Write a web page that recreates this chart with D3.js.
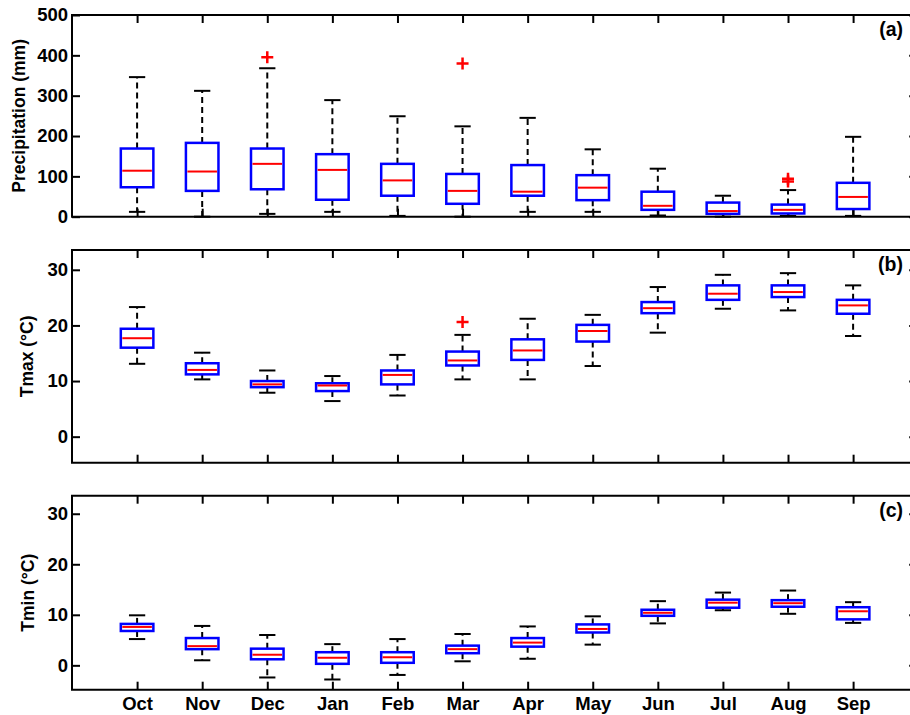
<!DOCTYPE html>
<html><head><meta charset="utf-8">
<script src="https://cdn.jsdelivr.net/npm/d3@7"></script>
<style>
html,body{margin:0;padding:0;background:#fff;overflow:hidden;}
svg{display:block;overflow:hidden;}
text{font-family:"Liberation Sans",Arial,sans-serif;font-weight:bold;fill:#000;}
</style></head>
<body><svg id="chart" width="910" height="715" viewBox="0 0 910 715"></svg>
<script>
const months = ["Oct","Nov","Dec","Jan","Feb","Mar","Apr","May","Jun","Jul","Aug","Sep"];

// Panel (a) Precipitation (mm)
const precipLow  = [12, 0, 7, 12, 2, 0, 12, 12, 3, 0, 2, 2];
const precipQ1   = [73, 64, 68, 42, 52, 32, 52, 41, 17, 7, 8, 19];
const precipMed  = [114, 112, 131, 116, 90, 64, 62, 72, 27, 14, 17, 49];
const precipQ3   = [169, 183, 169, 155, 131, 106, 128, 103, 62, 35, 30, 84];
const precipHigh = [346, 312, 368, 289, 249, 224, 245, 167, 119, 52, 66, 198];
const precipOut  = [[], [], [395], [], [], [380], [], [], [], [], [94, 87], []];
const precipTicks = [0, 100, 200, 300, 400, 500];

// Panel (b) Tmax
const tmaxLow  = [13.1, 10.3, 7.9, 6.4, 7.4, 10.3, 10.3, 12.7, 18.7, 23.0, 22.7, 18.1];
const tmaxQ1   = [16.0, 11.2, 8.9, 8.2, 9.4, 12.8, 13.8, 17.1, 22.2, 24.6, 25.1, 22.1];
const tmaxMed  = [17.7, 12.0, 9.4, 9.2, 11.1, 13.7, 15.5, 19.0, 23.1, 25.7, 26.0, 23.6];
const tmaxQ3   = [19.4, 13.2, 10.0, 9.6, 11.9, 15.3, 17.5, 20.1, 24.2, 27.2, 27.2, 24.6];
const tmaxHigh = [23.3, 15.1, 11.9, 10.9, 14.7, 18.3, 21.2, 21.9, 26.9, 29.1, 29.4, 27.2];
const tmaxOut  = [[], [], [], [], [], [20.6], [], [], [], [], [], []];

// Panel (c) Tmin
const tminLow  = [5.2, 1.0, -2.4, -2.8, -1.9, 0.8, 1.3, 4.1, 8.3, 10.9, 10.2, 8.4];
const tminQ1   = [6.8, 3.2, 1.2, 0.3, 0.5, 2.4, 3.7, 6.5, 9.8, 11.4, 11.6, 9.1];
const tminMed  = [7.6, 3.8, 2.1, 1.5, 1.6, 3.2, 4.5, 7.2, 10.4, 12.4, 12.3, 10.7];
const tminQ3   = [8.2, 5.4, 3.3, 2.6, 2.6, 3.9, 5.4, 8.1, 11.0, 13.0, 12.9, 11.5];
const tminHigh = [9.9, 7.8, 6.0, 4.2, 5.2, 6.2, 7.7, 9.7, 12.7, 14.4, 14.8, 12.5];
const tminOut  = [[], [], [], [], [], [], [], [], [], [], [], []];
const tempTicks = [0, 10, 20, 30];

const panels = [
  {label:"(a)", ylab:"Precipitation (mm)", top:15, bottom:216.7, dom:[0,500], ticks:precipTicks,
   low:precipLow, q1:precipQ1, med:precipMed, q3:precipQ3, high:precipHigh, out:precipOut, xlabels:false, ylabX:18.5},
  {label:"(b)", ylab:"Tmax (\u00B0C)", top:250, bottom:462.7, dom:[-4.68,33.56], ticks:tempTicks,
   low:tmaxLow, q1:tmaxQ1, med:tmaxMed, q3:tmaxQ3, high:tmaxHigh, out:tmaxOut, xlabels:false, ylabX:27},
  {label:"(c)", ylab:"Tmin (\u00B0C)", top:495.7, bottom:689.7, dom:[-4.82,33.57], ticks:tempTicks,
   low:tminLow, q1:tminQ1, med:tminMed, q3:tminQ3, high:tminHigh, out:tminOut, xlabels:true, ylabX:27.5}
];

const svg = d3.select("#chart");
const left = 72, right = 918.2;
const x = d3.scaleLinear().domain([0, 13]).range([left, right]);
const idx = d3.range(1, 13);

panels.forEach(p => {
  const y = d3.scaleLinear().domain(p.dom).range([p.bottom, p.top]);
  const g = svg.append("g");

  const styleAxis = sel => {
    sel.select(".domain").remove();
    sel.selectAll(".tick line").attr("stroke","#000").attr("stroke-width",2);
    sel.selectAll(".tick text").style("font-size","18.5px").attr("fill","#000");
  };
  g.append("g").attr("transform",`translate(${left},0)`)
    .call(d3.axisLeft(y).tickValues(p.ticks).tickSize(-8).tickPadding(4).tickFormat(d3.format("d")))
    .call(styleAxis);
  g.append("g").attr("transform",`translate(${right},0)`)
    .call(d3.axisRight(y).tickValues(p.ticks).tickSize(-9).tickFormat(""))
    .call(styleAxis);
  g.append("g").attr("transform",`translate(0,${p.top})`)
    .call(d3.axisTop(x).tickValues(idx).tickSize(-8).tickFormat(""))
    .call(styleAxis);
  g.append("g").attr("transform",`translate(0,${p.bottom})`)
    .call(d3.axisBottom(x).tickValues(idx).tickSize(-8).tickPadding(7)
      .tickFormat(p.xlabels ? (d => months[d-1]) : ""))
    .call(styleAxis);

  // frame: left, top, bottom (right edge lies outside the picture)
  g.append("path")
    .attr("d",`M${right},${p.top}H${left}V${p.bottom}H${right}`)
    .attr("fill","none").attr("stroke","#000").attr("stroke-width",2);

  const hw = 0.25, cw = 0.125;
  idx.forEach((m, i) => {
    g.append("line").attr("x1",x(m)).attr("x2",x(m)).attr("y1",y(p.q3[i])).attr("y2",y(p.high[i]))
      .attr("stroke","#000").attr("stroke-width",2).attr("stroke-dasharray","6,4");
    g.append("line").attr("x1",x(m)).attr("x2",x(m)).attr("y1",y(p.q1[i])).attr("y2",y(p.low[i]))
      .attr("stroke","#000").attr("stroke-width",2).attr("stroke-dasharray","6,4");
    [p.high[i], p.low[i]].forEach(v => {
      g.append("line").attr("x1",x(m-cw)).attr("x2",x(m+cw)).attr("y1",y(v)).attr("y2",y(v))
        .attr("stroke","#000").attr("stroke-width",2);
    });
    g.append("rect").attr("x",x(m-hw)).attr("y",y(p.q3[i]))
      .attr("width",x(m+hw)-x(m-hw)).attr("height",y(p.q1[i])-y(p.q3[i]))
      .attr("fill","#fff").attr("stroke","#0000ff").attr("stroke-width",2.5);
    g.append("line").attr("x1",x(m-hw)+1.5).attr("x2",x(m+hw)-1.5).attr("y1",y(p.med[i])).attr("y2",y(p.med[i]))
      .attr("stroke","#ff0000").attr("stroke-width",2);
    p.out[i].forEach(v => {
      const cx = x(m), cy = y(v), s = 6;
      g.append("path").attr("d",`M${cx-s},${cy}H${cx+s}M${cx},${cy-s}V${cy+s}`)
        .attr("stroke","#ff0000").attr("stroke-width",2.5).attr("fill","none");
    });
  });

  g.append("text").attr("x",903).attr("y",p.top+21).attr("text-anchor","end")
    .style("font-size","19.5px").text(p.label);
  g.append("text")
    .attr("transform",`translate(${p.ylabX},${(p.top+p.bottom)/2}) rotate(-90)`)
    .attr("text-anchor","middle").attr("dominant-baseline","central")
    .style("font-size","17.5px").text(p.ylab);
});
</script></body></html>
